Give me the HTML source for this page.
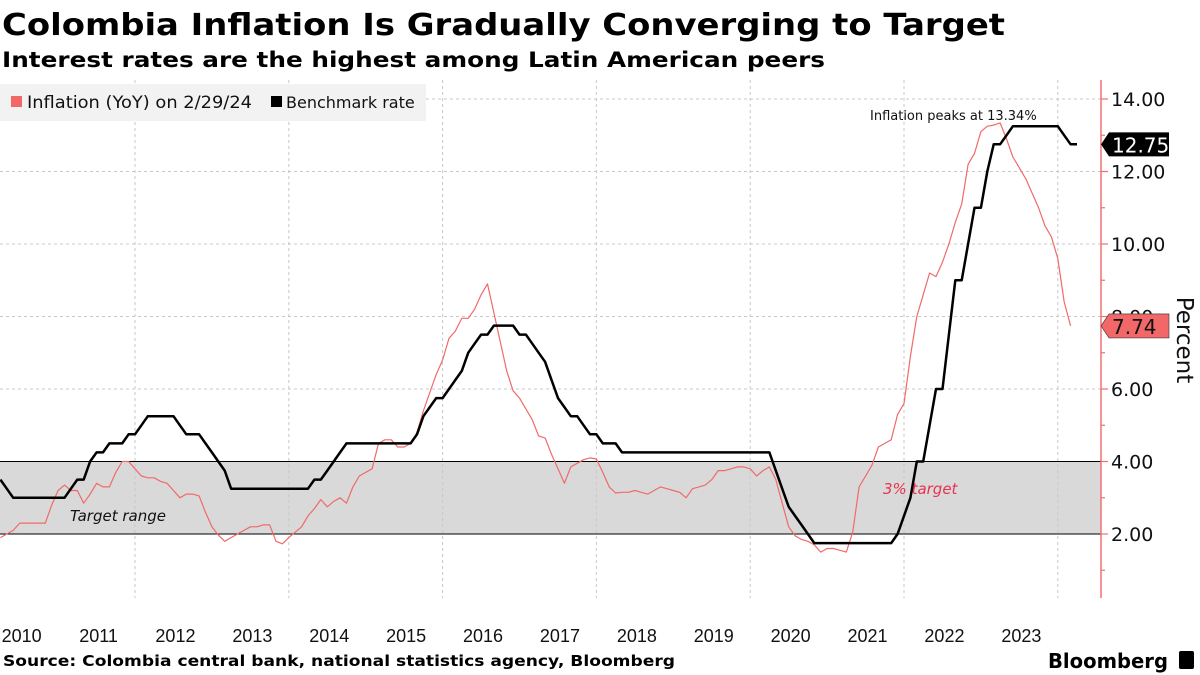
<!DOCTYPE html>
<html><head><meta charset="utf-8">
<style>
html,body{margin:0;padding:0;background:#fff;}
body{width:1200px;height:675px;overflow:hidden;}
svg{display:block;}
</style></head>
<body>
<svg id="chart" width="1200" height="675" xmlns="http://www.w3.org/2000/svg">
<text x="2" y="35" font-family="DejaVu Sans, sans-serif" font-weight="bold" font-size="30" textLength="1003" lengthAdjust="spacingAndGlyphs">Colombia Inflation Is Gradually Converging to Target</text>
<text x="2" y="67" font-family="DejaVu Sans, sans-serif" font-weight="bold" font-size="21" textLength="823" lengthAdjust="spacingAndGlyphs">Interest rates are the highest among Latin American peers</text>
<g id="plot"></g>
<g>
<rect x="0" y="84" width="426" height="37" fill="#f2f2f2"/>
<g>
<rect x="11" y="96" width="11" height="11" fill="#f26868"/>
<text x="27" y="108" font-family="DejaVu Sans, sans-serif" font-size="17" fill="#111" textLength="225" lengthAdjust="spacingAndGlyphs">Inflation (YoY) on 2/29/24</text></g>
<g>
<rect x="271" y="96" width="11" height="11" fill="#000"/>
<text x="286" y="108" font-family="DejaVu Sans, sans-serif" font-size="16" fill="#111">Benchmark rate</text></g>
</g>
<text x="3" y="666" font-family="DejaVu Sans, sans-serif" font-weight="bold" font-size="15" textLength="672" lengthAdjust="spacingAndGlyphs">Source: Colombia central bank, national statistics agency, Bloomberg</text>
<text x="1048" y="668" font-family="DejaVu Sans, sans-serif" font-weight="bold" font-size="20" textLength="120" lengthAdjust="spacingAndGlyphs">Bloomberg</text>
<rect x="1179" y="651" width="15" height="18" rx="2" fill="#000"/>
</svg>
<script>
const yTicks = [2, 4, 6, 8, 10, 12, 14];
const yTickLabels = ["2.00", "4.00", "6.00", "8.00", "10.00", "12.00", "14.00"];
const years = [2010, 2011, 2012, 2013, 2014, 2015, 2016, 2017, 2018, 2019, 2020, 2021, 2022, 2023];
const targetLow = 2, targetHigh = 4, targetMid = 3;
const peakLabel = "Inflation peaks at 13.34%";
// monthly, starting March 2010 (month index 3 from Jan 2010)
const inflationStart = 3;
const inflation = [1.9,2.0,2.1,2.3,2.3,2.3,2.3,2.3,2.8,3.2,
3.35,3.2,3.2,2.85,3.1,3.4,3.3,3.3,3.7,4.0,4.0,3.8,
3.6,3.55,3.55,3.45,3.4,3.2,3.0,3.1,3.1,3.05,2.6,2.2,
1.97,1.8,1.9,2.0,2.1,2.2,2.2,2.25,2.25,1.8,1.73,1.9,
2.05,2.2,2.5,2.7,2.95,2.75,2.9,3.0,2.85,3.3,3.6,3.7,
3.8,4.5,4.6,4.6,4.4,4.4,4.5,4.8,5.4,5.9,6.4,6.8,
7.4,7.6,7.95,7.95,8.2,8.6,8.9,8.1,7.3,6.5,5.95,5.75,
5.45,5.15,4.7,4.65,4.2,3.8,3.4,3.85,3.95,4.05,4.1,4.07,
3.7,3.3,3.13,3.15,3.15,3.2,3.15,3.1,3.2,3.3,3.25,3.2,
3.15,3.0,3.25,3.3,3.35,3.5,3.75,3.75,3.8,3.85,3.85,3.8,
3.6,3.75,3.85,3.5,2.85,2.2,1.95,1.85,1.8,1.7,1.5,1.6,
1.6,1.55,1.5,2.05,3.3,3.6,3.9,4.4,4.5,4.6,5.3,5.6,
6.9,8.0,8.6,9.2,9.1,9.5,10.0,10.6,11.1,12.2,12.5,13.1,
13.25,13.28,13.34,12.9,12.4,12.1,11.8,11.4,11.0,10.5,10.2,9.6,
8.4,7.74];
const rateStart = 3;
const rate = [3.5,3.25,3.0,3.0,3.0,3.0,3.0,3.0,3.0,3.0,
3.0,3.25,3.5,3.5,4.0,4.25,4.25,4.5,4.5,4.5,4.75,4.75,
5.0,5.25,5.25,5.25,5.25,5.25,5.0,4.75,4.75,4.75,4.5,4.25,
4.0,3.75,3.25,3.25,3.25,3.25,3.25,3.25,3.25,3.25,3.25,3.25,
3.25,3.25,3.25,3.5,3.5,3.75,4.0,4.25,4.5,4.5,4.5,4.5,
4.5,4.5,4.5,4.5,4.5,4.5,4.5,4.75,5.25,5.5,5.75,5.75,
6.0,6.25,6.5,7.0,7.25,7.5,7.5,7.75,7.75,7.75,7.75,7.5,
7.5,7.25,7.0,6.75,6.25,5.75,5.5,5.25,5.25,5.0,4.75,4.75,
4.5,4.5,4.5,4.25,4.25,4.25,4.25,4.25,4.25,4.25,4.25,4.25,
4.25,4.25,4.25,4.25,4.25,4.25,4.25,4.25,4.25,4.25,4.25,4.25,
4.25,4.25,4.25,3.75,3.25,2.75,2.5,2.25,2.0,1.75,1.75,1.75,
1.75,1.75,1.75,1.75,1.75,1.75,1.75,1.75,1.75,1.75,2.0,2.5,
3.0,4.0,4.0,5.0,6.0,6.0,7.5,9.0,9.0,10.0,11.0,11.0,
12.0,12.75,12.75,13.0,13.25,13.25,13.25,13.25,13.25,13.25,13.25,13.25,
13.0,12.75,12.75];

const NS = "http://www.w3.org/2000/svg";
const plot = document.getElementById('plot');
const X0 = -18.8, PX_PER_MONTH = 76.9 / 12;
const AXIS_X = 1101;
function xOfMonth(m){ return X0 + m * PX_PER_MONTH; }
function yOf(v){ return 534 - (v - 2) * 36.25; }
function mk(tag, attrs){ const e = document.createElementNS(NS, tag); for (const k in attrs) e.setAttribute(k, attrs[k]); plot.appendChild(e); return e; }

let band = mk('rect', {x:0, y:yOf(targetHigh), width:AXIS_X, height:yOf(targetLow)-yOf(targetHigh), fill:'#d9d9d9'});



yTicks.forEach(v => {
  if (v === targetLow || v === targetHigh) return;
  const g = mk('line', {x1:0, x2:AXIS_X, y1:yOf(v), y2:yOf(v), stroke:'#c8c8c8', 'stroke-width':1, 'stroke-dasharray':'3,3'});
  
  
});
years.forEach(yr => {
  if (yr % 2 !== 0 || yr === 2010) return;
  const x = xOfMonth((yr - 2010) * 12);
  const g = mk('line', {x1:x, x2:x, y1:80, y2:598, stroke:'#c8c8c8', 'stroke-width':1, 'stroke-dasharray':'3,3'});
  
  
});
{ const x = xOfMonth((2024 - 2010) * 12);
  const g = mk('line', {x1:x, x2:x, y1:80, y2:598, stroke:'#c8c8c8', 'stroke-width':1, 'stroke-dasharray':'3,3'});
  
   }

[targetHigh, targetLow].forEach(v => {
  const l = mk('line', {x1:0, x2:AXIS_X, y1:yOf(v), y2:yOf(v), stroke:'#000', 'stroke-width':1});
  
  
});

let tr = mk('text', {x:70, y:521, 'font-family':'DejaVu Sans, sans-serif', 'font-size':15, 'font-style':'italic', fill:'#111'});
tr.textContent = 'Target range';


let tt = mk('text', {x:883, y:494, 'font-family':'DejaVu Sans, sans-serif', 'font-size':15, 'font-style':'italic', fill:'#e8334f'});
tt.textContent = targetMid + '% target';



function pathFor(arr, start){ return arr.map((v,i)=> (i?'L':'M') + xOfMonth(start+i).toFixed(1) + ',' + yOf(v).toFixed(1)).join(''); }
let inf = mk('path', {d:pathFor(inflation, inflationStart), fill:'none', stroke:'#f06a6a', 'stroke-width':1.2, 'stroke-linejoin':'round'});


let rt = mk('path', {d:pathFor(rate, rateStart), fill:'none', stroke:'#000', 'stroke-width':2.5, 'stroke-linejoin':'round'});



let pk = mk('text', {x:870, y:120, 'font-family':'DejaVu Sans, sans-serif', 'font-size':13, fill:'#111'});
pk.textContent = peakLabel;



let ax = mk('line', {x1:AXIS_X, x2:AXIS_X, y1:80, y2:598, stroke:'#f07070', 'stroke-width':1.5});


for (let v = 1; v <= 14; v++) {
  const major = v % 2 === 0;
  const t = mk('line', {x1:AXIS_X, x2:AXIS_X + (major ? 7 : 4), y1:yOf(v), y2:yOf(v), stroke:'#f07070', 'stroke-width':1.2});
  
  
}
yTicks.forEach((v,i) => {
  const t = mk('text', {x:1111, y:yOf(v)+7, 'font-family':'DejaVu Sans, sans-serif', 'font-size':19, fill:'#111'});
  t.textContent = yTickLabels[i];
  
  
});
let pct = mk('text', {x:0, y:0, transform:'translate(1177,340) rotate(90)', 'text-anchor':'middle', 'font-family':'DejaVu Sans, sans-serif', 'font-size':23, fill:'#111'});
pct.textContent = 'Percent';



function tag(v, bg, fg, name){
  const y = yOf(v);
  const p = mk('path', {d:`M${AXIS_X},${y} L${AXIS_X+8},${y-12} L${AXIS_X+68},${y-12} L${AXIS_X+68},${y+12} L${AXIS_X+8},${y+12} Z`, fill:bg, stroke:'#333', 'stroke-width':bg==='#000'?0:0.6});
  
  
  const t = mk('text', {x:AXIS_X+11, y:y+8, 'font-family':'DejaVu Sans, sans-serif', 'font-size':20, fill:fg});
  t.textContent = v.toFixed(2);
  
  
}
tag(rate[rate.length-1], '#000', '#fff', 'benchmark-last-value');
tag(inflation[inflation.length-1], '#f26868', '#111', 'inflation-last-value');

years.forEach(yr => {
  const t = mk('text', {x:xOfMonth((yr-2010)*12 + 6) + 2, y:642, 'text-anchor':'middle', 'font-family':'Liberation Sans, sans-serif', 'font-size':18, fill:'#111'});
  t.textContent = yr;
  
  
});
</script>
</body></html>
